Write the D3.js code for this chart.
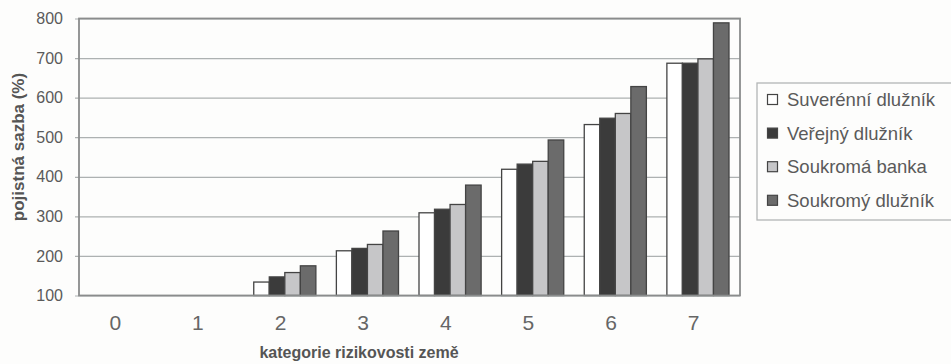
<!DOCTYPE html>
<html>
<head>
<meta charset="utf-8">
<script src="https://cdn.jsdelivr.net/npm/d3@7"></script>
<style>
  html, body { margin: 0; padding: 0; background: #fdfdfc; }
  svg { display: block; font-family: "Liberation Sans", Arial, sans-serif; }
</style>
</head>
<body>
<svg id="chart" width="951" height="364"></svg>
<script>
// Risk category of the country (x axis)
const categories = ["0", "1", "2", "3", "4", "5", "6", "7"];

// Series names, as shown in the legend
const seriesNames = ["Suverénní dlužník", "Veřejný dlužník", "Soukromá banka", "Soukromý dlužník"];

// Insurance rate (%) per category for each debtor type
const suverenni = [100, 100, 134, 213, 309, 419, 532, 687];
const verejny   = [100, 100, 147, 219, 318, 432, 548, 687];
const banka     = [100, 100, 158, 229, 330, 439, 560, 698];
const soukromy  = [100, 100, 175, 263, 379, 493, 628, 789];

const yTicks = [100, 200, 300, 400, 500, 600, 700, 800];

const seriesValues = [suverenni, verejny, banka, soukromy];
const fills = ["#ffffff", "#3b3b3b", "#c6c6c8", "#6b6b6b"];

const svg = d3.select("#chart");
const plot = { left: 79, right: 740, top: 18.5, bottom: 295.5 };

const x = d3.scaleBand().domain(categories).range([plot.left, plot.right]).padding(0);
const x1 = d3.scaleBand().domain(d3.range(seriesNames.length))
  .range([9.5, x.bandwidth() - 11]).padding(0);
const y = d3.scaleLinear().domain([100, 800]).range([plot.bottom, plot.top]);

// Horizontal gridlines with short outer ticks
const yAxis = d3.axisLeft(y).tickValues(yTicks).tickSize(-(plot.right - plot.left)).tickPadding(16)
  .tickFormat(d3.format("d"));
const gy = svg.append("g").attr("transform", `translate(${plot.left},0)`).call(yAxis);
gy.select(".domain").remove();
gy.selectAll(".tick line").attr("stroke", "#adb1b1").attr("stroke-width", 1.2)
  .attr("x1", -4);
gy.selectAll(".tick text").attr("fill", "#5a5a5a").attr("font-size", 16);

// Bars
const rows = categories.map((c, i) => ({ c, vals: seriesValues.map(s => s[i]) }));
const groups = svg.append("g").selectAll("g").data(rows).join("g")
  .attr("transform", d => `translate(${x(d.c)},0)`);
groups.selectAll("rect").data(d => d.vals.map((v, k) => ({ v, k }))).join("rect")
  .attr("x", d => x1(d.k))
  .attr("width", x1.bandwidth())
  .attr("y", d => y(d.v))
  .attr("height", d => plot.bottom - y(d.v))
  .attr("fill", d => fills[d.k])
  .attr("stroke", d => (y(d.v) < plot.bottom ? "#444" : "none"))
  .attr("stroke-width", 1.3);

// Plot frame
svg.append("rect")
  .attr("x", plot.left).attr("y", plot.top)
  .attr("width", plot.right - plot.left).attr("height", plot.bottom - plot.top)
  .attr("fill", "none").attr("stroke", "#8a8c8c").attr("stroke-width", 1.8);

// Category labels
const xAxis = d3.axisBottom(x).tickSize(0).tickPadding(0);
const gx = svg.append("g").attr("transform", `translate(0,${plot.bottom})`).call(xAxis);
gx.select(".domain").remove();
gx.selectAll(".tick text")
  .attr("fill", "#666").attr("font-size", 21)
  .attr("dy", 0).attr("y", 34).attr("dx", -5);

// Axis titles
svg.append("text")
  .attr("transform", "translate(24,147) rotate(-90)")
  .attr("text-anchor", "middle").attr("font-weight", "bold").attr("font-size", 17)
  .attr("fill", "#555").text("pojistná sazba (%)");
svg.append("text")
  .attr("x", 359).attr("y", 358)
  .attr("text-anchor", "middle").attr("font-weight", "bold").attr("font-size", 16)
  .attr("fill", "#555").text("kategorie rizikovosti země");

// Legend
const legend = svg.append("g").attr("transform", "translate(757,83)");
legend.append("rect").attr("x", 0).attr("y", 0).attr("width", 220).attr("height", 137)
  .attr("fill", "#fdfdfc").attr("stroke", "#b3b6b6").attr("stroke-width", 1.3);
const items = legend.selectAll("g.item").data(seriesNames).join("g")
  .attr("class", "item")
  .attr("transform", (d, i) => `translate(0,${16.5 + i * 33.6})`);
items.append("rect").attr("x", 10.5).attr("y", -5).attr("width", 10).attr("height", 10)
  .attr("fill", (d, i) => fills[i]).attr("stroke", "#444").attr("stroke-width", 1.2);
items.append("text").attr("x", 30).attr("y", 0).attr("dy", "0.36em")
  .attr("font-size", 18.5).attr("fill", "#5a5a5a").text(d => d);
</script>
</body>
</html>
